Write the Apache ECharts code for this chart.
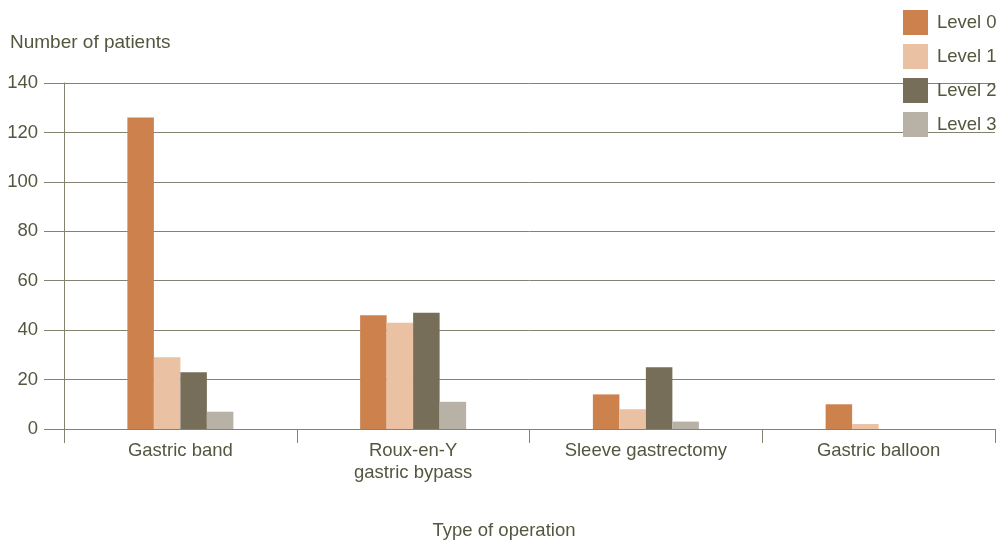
<!DOCTYPE html>
<html>
<head>
<meta charset="utf-8">
<script src="https://cdn.jsdelivr.net/npm/echarts@6/dist/echarts.min.js"></script>
<style>
  html, body { margin: 0; padding: 0; background: #ffffff; overflow: hidden; }
  #chart { width: 998px; height: 542px; }
</style>
</head>
<body>
<div id="chart"></div>
<script>
// Operation types along the x axis
const categories = ['Gastric band', 'Roux-en-Y\ngastric bypass', 'Sleeve gastrectomy', 'Gastric balloon'];
// Patient counts per level
const level0 = [126, 46, 14, 10];
const level1 = [29, 43, 8, 2];
const level2 = [23, 47, 25, 0];
const level3 = [7, 11, 3, 0];
const seriesNames = ['Level 0', 'Level 1', 'Level 2', 'Level 3'];
const seriesData = [level0, level1, level2, level3];
const colors = ['#cd814d', '#eac1a3', '#776e5a', '#b8b1a6'];

const textColor = '#55563f';
const lineColor = '#85836f';
const fontFamily = '"Liberation Sans", Arial, sans-serif';
const fontSize = 18.5;

const chart = echarts.init(document.getElementById('chart'));
chart.setOption({
  animation: false,
  textStyle: { fontFamily: fontFamily },
  color: colors,
  grid: { left: 64, right: 3, top: 83, bottom: 113, outerBoundsMode: 'none', containLabel: false },
  graphic: [
    {
      type: 'text',
      left: 10,
      top: 33,
      style: { text: 'Number of patients', fontSize: 19, fill: textColor, fontFamily: fontFamily }
    },
    {
      type: 'text',
      x: 504,
      y: 531,
      style: {
        text: 'Type of operation', fontSize: fontSize, fill: textColor, fontFamily: fontFamily,
        align: 'center', verticalAlign: 'middle'
      }
    }
  ],
  legend: {
    orient: 'vertical',
    left: 903,
    top: 10,
    padding: 0,
    itemWidth: 25,
    itemHeight: 25,
    itemGap: 9,
    icon: 'rect',
    textStyle: { fontSize: fontSize, color: textColor, padding: [4, 0, 0, 4] },
    data: seriesNames
  },
  xAxis: {
    type: 'category',
    data: categories,
    axisLine: { show: true, lineStyle: { color: lineColor, width: 1 } },
    axisTick: { show: true, length: 14, alignWithLabel: false, lineStyle: { color: lineColor } },
    axisLabel: { fontSize: fontSize, color: textColor, margin: 11, lineHeight: 22, interval: 0 }
  },
  yAxis: {
    type: 'value',
    min: 0,
    max: 140,
    interval: 20,
    axisLine: { show: true, lineStyle: { color: lineColor, width: 1 } },
    axisTick: { show: true, length: 20, inside: false, lineStyle: { color: lineColor, width: 1 } },
    axisLabel: { fontSize: fontSize, color: textColor, margin: 26 },
    splitLine: { show: true, lineStyle: { color: lineColor, width: 1 } }
  },
  series: seriesNames.map((name, i) => ({
    name: name,
    type: 'bar',
    data: seriesData[i],
    barWidth: 26.5,
    barGap: '0%',
    itemStyle: { color: colors[i] }
  }))
});
</script>
</body>
</html>
